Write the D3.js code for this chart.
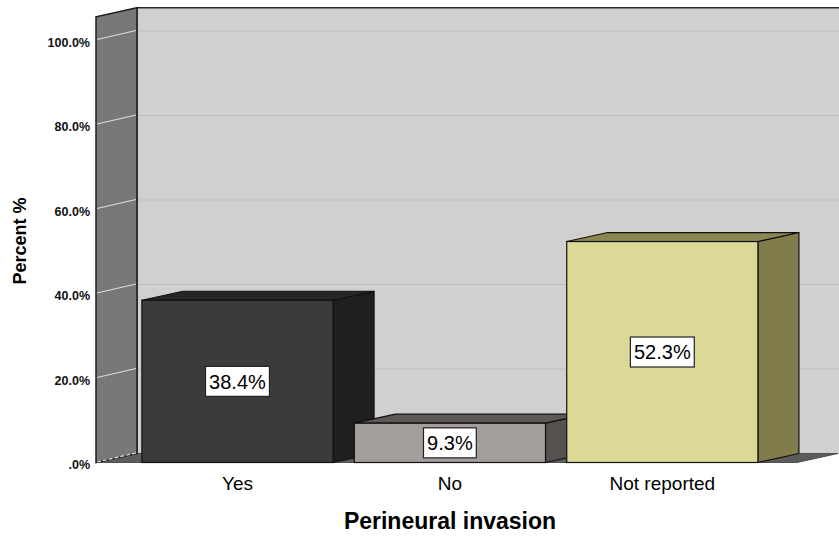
<!DOCTYPE html>
<html>
<head>
<meta charset="utf-8">
<script src="https://cdn.jsdelivr.net/npm/d3@7"></script>
<style>
  html, body { margin: 0; padding: 0; background: #ffffff; }
  svg { display: block; font-family: Arial, "Liberation Sans", sans-serif; }
</style>
</head>
<body>
<svg id="chart" width="839" height="540"></svg>
<script>
// Perineural invasion: share of cases by category
const categories = ["Yes", "No", "Not reported"];
const percents = [38.4, 9.3, 52.3];
const yTicks = [0, 20, 40, 60, 80, 100];
const yTickLabels = [".0%", "20.0%", "40.0%", "60.0%", "80.0%", "100.0%"];

// bar face colours: front, side, top
const frontFill = ["#3a3b3d", "#a39e9c", "#dcd896"];
const sideFill  = ["#1f1f1f", "#56514f", "#807c4c"];
const topFill   = ["#262626", "#5e5957", "#8a8752"];

const W = 839, H = 540;
const DX = 41, DY = -9;          // depth offset of the 3D box
const yMax = 105.5;

const svg = d3.select("#chart");

const x = d3.scaleBand()
  .domain(categories)
  .range([96, 797])
  .paddingInner(0.1)
  .paddingOuter(0.2)
  .align(0.54);

const y = d3.scaleLinear()
  .domain([0, yMax])
  .range([462.5, 462.5 - yMax * 4.225]);

const y0 = y(0), yTop = y(yMax);
const xL = x.range()[0], xR = x.range()[1];

// back wall
svg.append("rect")
  .attr("x", xL + DX).attr("y", yTop + DY)
  .attr("width", W - (xL + DX) + 2).attr("height", y0 - yTop)
  .attr("fill", "#d0d0d0");

// back wall gridlines
svg.append("g").selectAll("line")
  .data(yTicks.filter(t => t > 0))
  .join("line")
  .attr("x1", xL + DX).attr("x2", W)
  .attr("y1", d => y(d) + DY).attr("y2", d => y(d) + DY)
  .attr("stroke", "#bdbdbd").attr("stroke-width", 1.2);

// back wall edges
svg.append("path")
  .attr("d", `M${xL + DX},${y0 + DY}V${yTop + DY}H${W + 2}`)
  .attr("fill", "none").attr("stroke", "#2a2a2a").attr("stroke-width", 1.5);

// floor
svg.append("polygon")
  .attr("points", [[xL, y0], [xR, y0], [xR + DX, y0 + DY], [xL + DX, y0 + DY]].join(" "))
  .attr("fill", "#5c5c5c").attr("stroke", "#3a3a3a").attr("stroke-width", 0.8);

// left wall
svg.append("polygon")
  .attr("points", [[xL, y0], [xL, yTop], [xL + DX, yTop + DY], [xL + DX, y0 + DY]].join(" "))
  .attr("fill", "#787878").attr("stroke", "#1e1e1e").attr("stroke-width", 1.5);

// left wall gridlines
svg.append("g").selectAll("line")
  .data(yTicks)
  .join("line")
  .attr("x1", xL + 1).attr("x2", xL + DX - 1)
  .attr("y1", d => y(d) - 0.5).attr("y2", d => y(d) + DY - 0.5)
  .attr("stroke", "#dedede").attr("stroke-width", 1.2)
  .attr("stroke-dasharray", d => d === 0 ? "4,2" : null);

// bars
const bars = svg.append("g").selectAll("g")
  .data(categories.map((c, i) => ({ c, v: percents[i], i })))
  .join("g");

bars.append("polygon") // side
  .attr("points", d => {
    const fx = x(d.c) + x.bandwidth(), yt = y(d.v);
    return [[fx, yt], [fx + DX, yt + DY], [fx + DX, y0 + DY], [fx, y0]].join(" ");
  })
  .attr("fill", d => sideFill[d.i]).attr("stroke", "#111").attr("stroke-width", 1.2)
  .attr("stroke-linejoin", "round");

bars.append("polygon") // top
  .attr("points", d => {
    const fx = x(d.c), w = x.bandwidth(), yt = y(d.v);
    return [[fx, yt], [fx + DX, yt + DY], [fx + w + DX, yt + DY], [fx + w, yt]].join(" ");
  })
  .attr("fill", d => topFill[d.i]).attr("stroke", "#111").attr("stroke-width", 1.2)
  .attr("stroke-linejoin", "round");

bars.append("rect") // front
  .attr("x", d => x(d.c)).attr("y", d => y(d.v))
  .attr("width", x.bandwidth()).attr("height", d => y0 - y(d.v))
  .attr("fill", d => frontFill[d.i]).attr("stroke", "#111").attr("stroke-width", 1.2);

// value labels
const fmt = v => d3.format(".1f")(v) + "%";
const labels = svg.append("g").selectAll("g")
  .data(categories.map((c, i) => ({ c, v: percents[i] })))
  .join("g")
  .attr("transform", d => `translate(${x(d.c) + x.bandwidth() / 2},${(y(d.v) + y0) / 2})`);

labels.append("rect").attr("class", "box");
labels.append("text")
  .attr("text-anchor", "middle")
  .attr("dy", "0.36em")
  .attr("font-size", 20)
  .attr("fill", "#000")
  .text(d => fmt(d.v));
labels.each(function () {
  const g = d3.select(this);
  const bb = g.select("text").node().getBBox();
  const w = bb.width + 7, h = 30;
  g.select("rect.box")
    .attr("x", -w / 2).attr("y", -h / 2)
    .attr("width", w).attr("height", h)
    .attr("fill", "#ffffff").attr("stroke", "#222").attr("stroke-width", 1.2);
});

// y axis
const yAxis = svg.append("g")
  .attr("transform", `translate(${xL - 6},0)`)
  .call(d3.axisLeft(y).tickValues(yTicks).tickSize(0).tickPadding(0)
    .tickFormat((d, i) => yTickLabels[i]));
yAxis.select(".domain").remove();
yAxis.selectAll("text")
  .attr("font-family", "Arial, 'Liberation Sans', sans-serif")
  .attr("font-size", 12.5).attr("font-weight", "bold").attr("fill", "#111")
  .attr("dy", "0.5em");

// x axis
const xAxis = svg.append("g")
  .attr("transform", `translate(0,${y0})`)
  .call(d3.axisBottom(x).tickSize(0).tickPadding(14));
xAxis.select(".domain").remove();
xAxis.selectAll("text")
  .attr("font-family", "Arial, 'Liberation Sans', sans-serif")
  .attr("font-size", 19).attr("fill", "#000");

// axis titles
svg.append("text")
  .attr("x", 450).attr("y", 529)
  .attr("text-anchor", "middle")
  .attr("font-size", 23).attr("font-weight", "bold").attr("fill", "#000")
  .text("Perineural invasion");

svg.append("text")
  .attr("transform", "translate(26,241) rotate(-90)")
  .attr("text-anchor", "middle")
  .attr("font-size", 18).attr("font-weight", "bold").attr("fill", "#000")
  .text("Percent %");
</script>
</body>
</html>
